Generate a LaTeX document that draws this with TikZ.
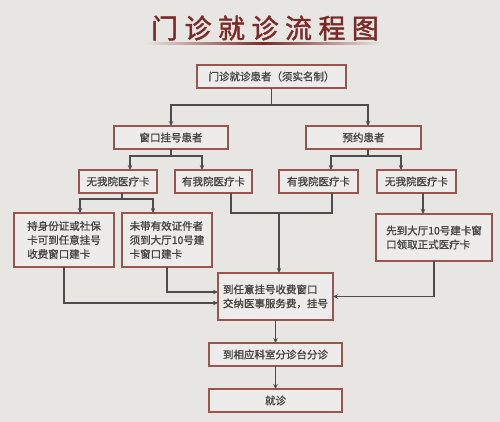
\documentclass[tikz,border=0pt]{standalone}
\usepackage{fontspec}
\newfontfamily\cjk[FakeBold=1.2]{Noto Sans CJK SC}
\newfontfamily\cjktitle[LetterSpace=24, FakeBold=1.6]{Noto Sans CJK SC}
\usetikzlibrary{arrows.meta, calc}

\begin{document}
\begin{tikzpicture}[
  x=1pt, y=-1pt,
  % ---- styles ----
  box/.style 2 args={%
    draw=Cb, fill=Cf, line width=1.2pt, minimum width=#1, minimum height=#2,
    inner sep=0pt, font=\cjk\fontsize{10.5}{14}\selectfont, text=Ct,
    align=left, outer sep=0pt,
  },
  link/.style={draw=Cl, line width=1.1pt},
  arr/.style={link, -{Stealth[length=5pt, width=4.5pt]}},
]

% ---- colour palette ----
\definecolor{Cbg}{HTML}{E8E6E3}     % page
\definecolor{Cf}{HTML}{EDECEA}      % box fill
\definecolor{Cb}{HTML}{9A5550}      % box border
\definecolor{Cl}{HTML}{4D4D4D}      % connectors
\definecolor{Ct}{HTML}{454545}      % box text
\definecolor{Ctitle}{HTML}{7A2A28}  % title

\fill[Cbg] (0,0) rectangle (500,422);
\useasboundingbox (0,0) rectangle (500,422);

% =========================================================
% Title
% =========================================================
\node[font=\cjktitle\fontsize{27}{30}\selectfont, text=Ctitle] (title) at (265,28) {门诊就诊流程图};
\shade[left color=Cbg, right color=Cbg, middle color=Ctitle] (145,42.5) rectangle (382,44.5);

% =========================================================
% Boxes
% =========================================================
\node[box={149pt}{23pt}] (b1) at (271.5,76.5) {门诊就诊患者（须实名制）};

\node[box={114pt}{23pt}] (b2) at (171,137.5) {窗口挂号患者};
\node[box={115pt}{23pt}] (b3) at (363.5,137.5) {预约患者};

\node[box={78pt}{23pt}] (b4) at (118,181.5) {无我院医疗卡};
\node[box={77pt}{23pt}] (b5) at (213.5,181.5) {有我院医疗卡};
\node[box={79pt}{23pt}] (b6) at (318.5,181.5) {有我院医疗卡};
\node[box={79pt}{23pt}] (b7) at (416.5,181.5) {无我院医疗卡};

\node[box={100pt}{54pt}] (b8) at (64,240) {持身份证或社保\\卡可到任意挂号\\收费窗口建卡};
\node[box={90pt}{54pt}] (b9) at (167,240) {未带有效证件者\\须到大厅10号建\\卡窗口建卡};
\node[box={116pt}{47pt}] (b11) at (434,237.5) {先到大厅10号建卡窗\\口领取正式医疗卡};

\node[box={115pt}{47pt}] (b10) at (275.5,296.5) {到任意挂号收费窗口\\交纳医事服务费，挂号};
\node[box={133pt}{23pt}] (b12) at (275.5,354.5) {到相应科室分诊台分诊};
\node[box={133pt}{23pt}] (b13) at (275.5,400.5) {就诊};

% =========================================================
% Connectors
% =========================================================
\draw[link] (b1.south) -- ++(0,17) coordinate (s1);
\draw[arr] (s1) -| (b2.north);
\draw[arr] (s1) -| ($(b3.north)+(4.5,0)$);

\draw[link] (b2.south) -- ++(0,7) coordinate (s2);
\draw[arr] (s2) -| ($(b4.north)+(12,0)$);
\draw[arr] (s2) -| ($(b5.north)+(-11.5,0)$);

\draw[link] ($(b3.south)+(4.5,0)$) -- ++(0,7) coordinate (s3);
\draw[arr] (s3) -| ($(b6.north)+(12.5,0)$);
\draw[arr] (s3) -| ($(b7.north)+(-15.5,0)$);

\draw[link] ($(b4.south)+(4,0)$) -- ++(0,6) coordinate (s4);
\draw[arr] (s4) -| ($(b8.north)+(16,0)$);
\draw[arr] (s4) -| ($(b9.north)+(-14,0)$);

% both card holders meet above the fee window
\coordinate (s5) at ($(b10.north |- b8.north)+(3.5,0)$);
\draw[link] ($(b5.south)+(17.5,0)$) |- (s5) -| ($(b6.south)+(13.5,0)$);
\draw[arr] (s5) -- ($(b10.north)+(3.5,0)$);

\draw[arr] ($(b7.south)+(6.5,0)$) -- ($(b7.south |- b11.north)+(6.5,0)$);

\draw[arr] (b8.south) |- ($(b10.west)+(0,6.5)$);
\draw[arr] (b9.south) |- ($(b10.west)+(0,-4.5)$);
\draw[arr] (b11.south) |- (b10.east);

\draw[arr] (b10) -- (b12);
\draw[arr] (b12) -- (b13);

\end{tikzpicture}
\end{document}
